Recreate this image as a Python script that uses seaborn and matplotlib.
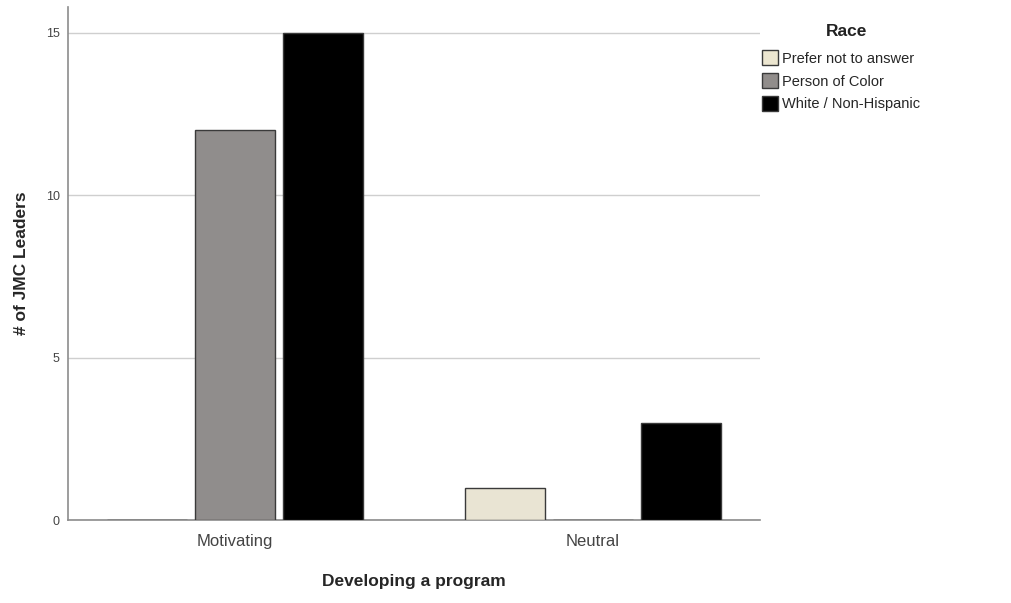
import pandas as pd
import matplotlib.pyplot as plt
import seaborn as sns

categorias = ["Motivating", "Neutral"]
racas = ["Prefer not to answer", "Person of Color", "White / Non-Hispanic"]
prefer_not = [0, 1]
person_of_color = [12, 0]
white = [15, 3]
cores = ["#ECE6D0", "#918D8B", "#000000"]

tabela = pd.DataFrame({
    "Developing a program": categorias * 3,
    "Race": [racas[0]] * 2 + [racas[1]] * 2 + [racas[2]] * 2,
    "Leaders": prefer_not + person_of_color + white,
})

sns.set_style("white")
plt.rcParams["font.family"] = ["Liberation Sans", "DejaVu Sans"]

fig = plt.figure(figsize=(10.12, 6.03), dpi=100)
ax = fig.add_axes([0.0672, 0.1376, 0.6838, 0.8508])

sns.barplot(data=tabela, x="Developing a program", y="Leaders", hue="Race",
            hue_order=racas, palette=cores, width=0.738, gap=0.09,
            edgecolor="#3a3a3a", linewidth=1, ax=ax, legend=False, zorder=3)

ax.set_xlim(-0.466, 1.466)
ax.set_ylim(0, 15.8)
ax.set_yticks([0, 5, 10, 15])
ax.yaxis.grid(True, color="#cfcfcf", linewidth=1, zorder=0)
ax.set_axisbelow(True)
for lado in ["top", "right"]:
    ax.spines[lado].set_visible(False)
for lado in ["left", "bottom"]:
    ax.spines[lado].set_color("#8c8c8c")
    ax.spines[lado].set_linewidth(1.2)

ax.tick_params(axis="y", labelsize=9, colors="#444444", length=0, pad=6)
ax.tick_params(axis="x", labelsize=12, colors="#444444", length=0, pad=10)
ax.set_xlabel("Developing a program", fontsize=12.5, fontweight="bold", labelpad=18)
ax.set_ylabel("# of JMC Leaders", fontsize=12.5, fontweight="bold", labelpad=12)

fig.text(0.837, 0.948, "Race", ha="center", va="center",
         fontsize=12.5, fontweight="bold", color="#222222")
handles = [plt.Rectangle((0, 0), 1, 1, facecolor=c, edgecolor="#3a3a3a", linewidth=1) for c in cores]
leg = fig.legend(handles, racas, loc="upper left",
                 bbox_to_anchor=(0.753, 0.917), frameon=False, fontsize=10.5,
                 handlelength=1.1, handleheight=1.25, handletextpad=0.3,
                 labelspacing=0.5, borderpad=0, borderaxespad=0)

fig.savefig("out.png", dpi=100)
